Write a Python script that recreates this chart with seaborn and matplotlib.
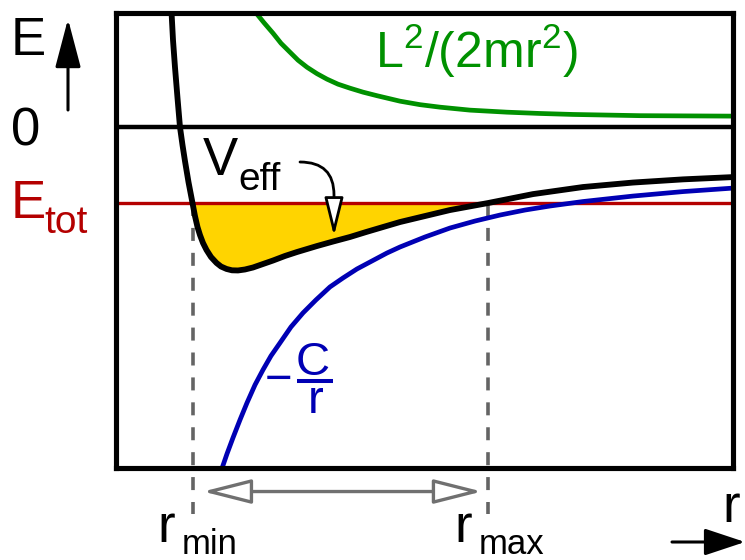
import numpy as np
import matplotlib
matplotlib.use("Agg")
import matplotlib.pyplot as plt
from matplotlib.patches import FancyArrowPatch
from matplotlib.path import Path
import seaborn as sns

# Effective potential, sampled along r
r_veff = [0.900, 0.924, 0.956, 0.997, 1.037, 1.078, 1.118, 1.175, 1.240, 1.280, 1.321,
          1.361, 1.410, 1.467, 1.540, 1.629, 1.702, 1.791, 1.880, 1.977, 2.091, 2.220,
          2.382, 2.545, 2.739, 2.934, 3.258, 3.517, 3.793, 4.052, 4.327, 4.603, 5.008,
          5.413, 6.029, 6.759, 7.569, 8.379, 9.190, 10.0]
veff = [1.513, 1.145, 0.789, 0.382, 0.0, -0.237, -0.447, -0.724, -1.0, -1.171, -1.316,
        -1.421, -1.526, -1.618, -1.711, -1.789, -1.836, -1.868, -1.886, -1.888, -1.875, -1.849,
        -1.803, -1.757, -1.697, -1.645, -1.566, -1.507, -1.447, -1.382, -1.316, -1.250, -1.171,
        -1.092, -1.0, -0.882, -0.789, -0.730, -0.688, -0.658]

# Attractive -C/r term
r_coul = [1.710, 1.799, 1.896, 2.010, 2.123, 2.253, 2.382, 2.512, 2.658, 2.836, 3.031,
          3.241, 3.468, 3.679, 3.906, 4.149, 4.392, 4.603, 5.008, 5.413, 5.818, 6.224,
          6.629, 7.034, 7.569, 8.379, 9.190, 10.0]
coul = [-4.513, -4.303, -4.092, -3.855, -3.632, -3.395, -3.197, -3.013, -2.842, -2.632, -2.447,
        -2.276, -2.105, -1.987, -1.868, -1.763, -1.658, -1.579, -1.447, -1.329, -1.237, -1.158,
        -1.092, -1.039, -0.980, -0.908, -0.849, -0.803]

# Centrifugal term L^2/(2mr^2)
r_cent = [2.261, 2.399, 2.545, 2.674, 2.820, 2.950, 3.096, 3.258, 3.420, 3.598, 3.793,
          4.003, 4.230, 4.603, 4.927, 5.251, 5.737, 6.337, 6.872, 7.407, 8.493, 10.0]
cent = [1.513, 1.375, 1.237, 1.105, 0.987, 0.882, 0.789, 0.704, 0.632, 0.566, 0.513,
        0.461, 0.414, 0.342, 0.296, 0.263, 0.224, 0.197, 0.180, 0.167, 0.151, 0.145]

E_tot = -1.0
r_min, r_max = 1.24, 6.03

BLACK = "#000000"
GREEN = "#009100"
BLUE = "#0000b4"
RED = "#b40000"
GOLD = "#ffd400"
GRAY = "#646464"
ARROW_GRAY = "#707070"

sns.set_style("white")
plt.rcParams["font.family"] = ["Liberation Sans", "DejaVu Sans"]
plt.rcParams["mathtext.fontset"] = "custom"
plt.rcParams["mathtext.rm"] = "Liberation Sans"

W, H = 745, 560
fig = plt.figure(figsize=(W / 100, H / 100), dpi=100)
ax = fig.add_axes([116 / W, 1 - 468 / H, 617 / W, 455.5 / H])
ax.set_xlim(0, 10)
ax.set_ylim(-4.49, 1.51)
ax.set_xticks([])
ax.set_yticks([])
for sp in ax.spines.values():
    sp.set_visible(True)
    sp.set_color(BLACK)
    sp.set_linewidth(3.7)
    sp.set_zorder(10)

veff_arr = np.array(veff)
r_veff_arr = np.array(r_veff)

# bound region between V_eff and the total energy
ax.fill_between(r_veff_arr, veff_arr, E_tot, where=veff_arr <= E_tot,
                interpolate=True, color=GOLD, lw=0, zorder=1)

# turning-point markers
dash_bottom = -5.10
for rv in (r_min, r_max):
    ax.plot([rv, rv], [E_tot, dash_bottom], color=GRAY, lw=2.6,
            dashes=(3.6, 3.3), clip_on=False, zorder=2)

# total energy level
x0, x1 = ax.get_xlim()
ax.plot([x0, x1 + 0.04], [E_tot, E_tot], color=RED, lw=2.4, clip_on=False,
        solid_capstyle="butt", zorder=3)

sns.lineplot(x=r_coul, y=coul, ax=ax, color=BLUE, linewidth=3.4, zorder=4)
sns.lineplot(x=r_cent, y=cent, ax=ax, color=GREEN, linewidth=3.4, zorder=4)
ax.axhline(0, color=BLACK, lw=3.2, zorder=5)
sns.lineplot(x=r_veff, y=veff, ax=ax, color=BLACK, linewidth=4.2, zorder=6)
ax.set_xlabel("")
ax.set_ylabel("")

# double arrow between turning points
y_arrow = -4.80
span = FancyArrowPatch((r_min + 0.17, y_arrow), (r_max - 0.10, y_arrow),
                       arrowstyle="<|-|>,head_length=30,head_width=7.6",
                       mutation_scale=1, shrinkA=0, shrinkB=0,
                       fc="white", ec=ARROW_GRAY, lw=2.4, clip_on=False, zorder=7)
ax.add_patch(span)

# overlay in pixel units for labels
ov = fig.add_axes([0, 0, 1, 1], zorder=20)
ov.set_xlim(0, W)
ov.set_ylim(H, 0)
ov.axis("off")
ov.patch.set_alpha(0)

BIG = 38
SUB = 28
RSUB = 25

# E axis arrow
ov.add_patch(FancyArrowPatch((68, 110), (68, 19),
                             arrowstyle="-|>,head_length=30,head_width=7.9",
                             mutation_scale=1, shrinkA=0, shrinkB=0,
                             fc=BLACK, ec=BLACK, lw=2.2))
ov.text(11, 55, "E", fontsize=BIG, color=BLACK, ha="left", va="baseline")
ov.text(11, 145, "0", fontsize=BIG, color=BLACK, ha="left", va="baseline")
ov.text(11, 218, "E", fontsize=BIG, color=RED, ha="left", va="baseline")
ov.text(44, 233, "tot", fontsize=SUB, color=RED, ha="left", va="baseline")

# V_eff label with leader
ov.text(203, 175, "V", fontsize=BIG, color=BLACK, ha="left", va="baseline")
ov.text(238, 190, "eff", fontsize=SUB, color=BLACK, ha="left", va="baseline")
leader = Path([(300, 162), (334, 162), (334, 195), (334, 236)],
              [Path.MOVETO, Path.CURVE3, Path.CURVE3, Path.LINETO])
ov.add_patch(FancyArrowPatch(path=leader,
                             arrowstyle="-|>,head_length=23.5,head_width=5.8",
                             mutation_scale=1, fc="white", ec=BLACK, lw=2.0))

# centrifugal label
ov.text(476.5, 68, r"$\mathregular{L^2/(2mr^2)}$", fontsize=36, color=GREEN,
        ha="center", va="baseline")

# -C/r label
ov.text(279, 393, "\u2212", fontsize=34, color=BLUE, ha="center", va="baseline")
ov.text(313, 375, "C", fontsize=34, color=BLUE, ha="center", va="baseline")
ov.plot([297, 333], [380.5, 380.5], color=BLUE, lw=2.9, solid_capstyle="butt")
ov.text(315.5, 413, "r", fontsize=34, color=BLUE, ha="center", va="baseline")

# turning-point labels
ov.text(157, 542, "r", fontsize=BIG, color=BLACK, ha="left", va="baseline")
ov.text(182, 554, "min", fontsize=RSUB, color=BLACK, ha="left", va="baseline")
ov.text(454, 542, "r", fontsize=BIG, color=BLACK, ha="left", va="baseline")
ov.text(479, 554, "max", fontsize=RSUB, color=BLACK, ha="left", va="baseline")

# r axis arrow
ov.text(722, 522, "r", fontsize=BIG, color=BLACK, ha="left", va="baseline")
ov.add_patch(FancyArrowPatch((672, 542), (745, 542),
                             arrowstyle="-|>,head_length=25,head_width=8.3",
                             mutation_scale=1, shrinkA=0, shrinkB=0,
                             fc=BLACK, ec=BLACK, lw=2.2))

fig.savefig("out.png", dpi=100)
